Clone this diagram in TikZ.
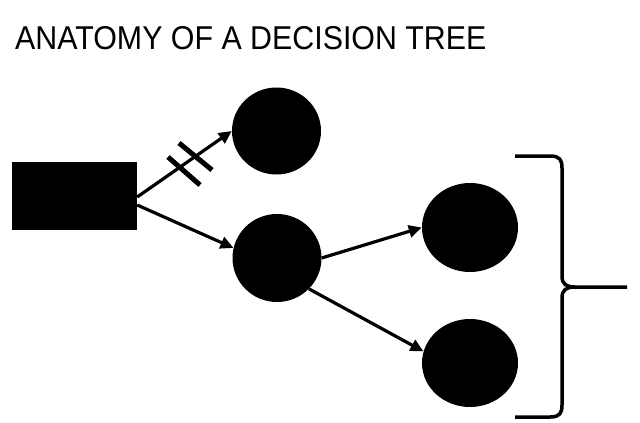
\documentclass[tikz,border=0pt]{standalone}
\usepackage{fontspec}
\setmainfont{Liberation Sans}
\usetikzlibrary{shapes.geometric,arrows.meta}
\begin{document}
\begin{tikzpicture}[x=1pt,y=-1pt,
  blob/.style={ellipse,fill=black,draw=none,inner sep=0pt},
  conn/.style={line width=3.2pt,-{Triangle[length=13pt,width=12pt]}},
  hashmark/.style={line width=5pt},
  bracepath/.style={line width=3.5pt,line cap=butt}]
\useasboundingbox[fill=white] (0,0) rectangle (640,423);
\node[anchor=base west,inner sep=0pt,xscale=0.92,font=\fontsize{33}{38}\selectfont] (title) at (15,49) {ANATOMY OF A DECISION TREE};
\node[fill=black,minimum width=125pt,minimum height=68pt,inner sep=0pt] (root) at (74.5,196) {};
\node[blob,minimum width=89pt,minimum height=87pt] (c1) at (276.5,131) {};
\node[blob,minimum width=89pt,minimum height=88pt] (c2) at (277,258) {};
\node[blob,minimum width=96pt,minimum height=89pt] (c3) at (470,227.5) {};
\node[blob,minimum width=96pt,minimum height=88pt] (c4) at (470,363) {};
\draw[conn] ([yshift=-1pt]root.east) -- (c1.west);
\draw[conn] ([yshift=-9pt]root.east) -- (c2.167);
\draw[conn] (c2.east) -- (c3.west);
\draw[conn] (c2.-44) -- (c4.166);
\draw[hashmark] (168,157) -- (200,185);
\draw[hashmark] (179,143) -- (212,170);
\coordinate (btop) at (515,156);
\coordinate (bbot) at (515,417);
\coordinate (btip) at (627,287);
\draw[bracepath] (btop) -- (550,156) .. controls (560,156) and (562,160) .. (562,168)
  -- (562,276) .. controls (562,284) and (566,287) .. (575,287) -- (btip);
\draw[bracepath] (bbot) -- (550,417) .. controls (560,417) and (562,413) .. (562,405)
  -- (562,298) .. controls (562,290) and (566,287) .. (575,287);
\end{tikzpicture}
\end{document}
